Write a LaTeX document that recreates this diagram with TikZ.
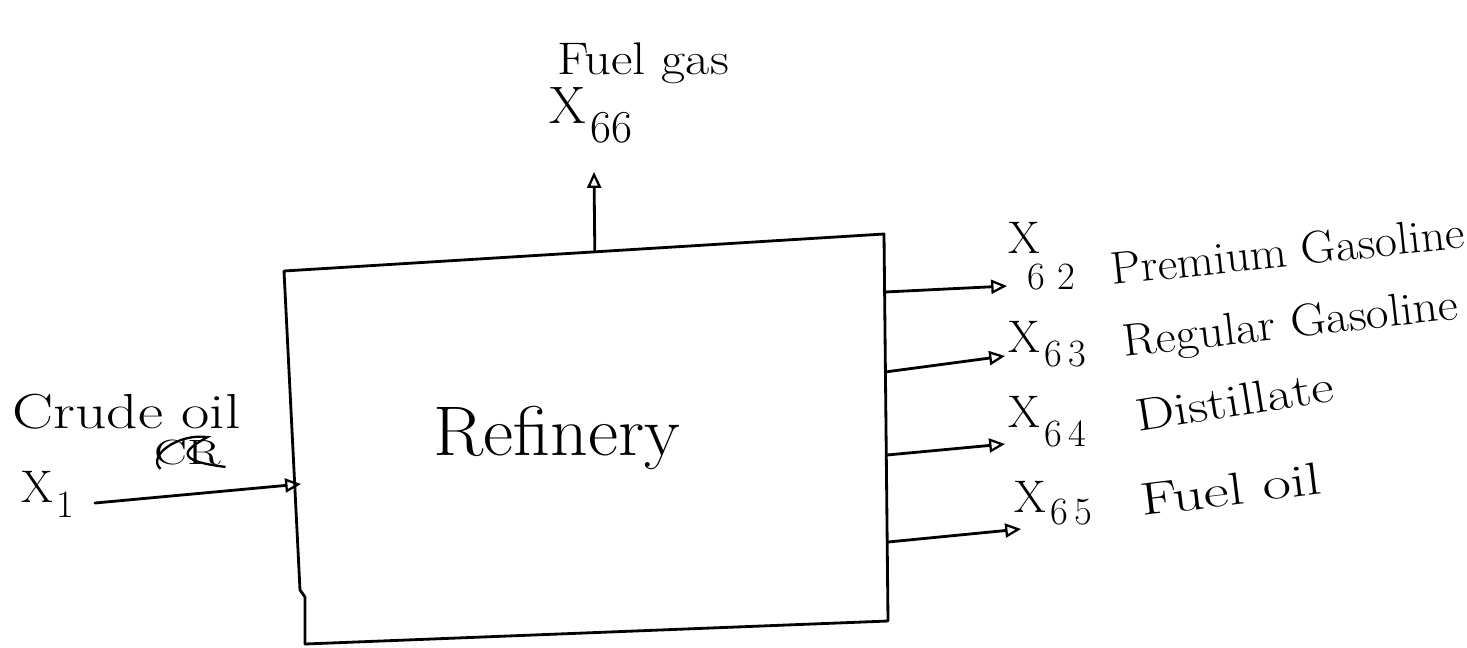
\documentclass[tikz,border=0pt]{standalone}
\usetikzlibrary{arrows.meta,calc}
\begin{document}
\begin{tikzpicture}[x=0.02cm,y=-0.02cm,
  pen/.style={line width=1.6pt,line cap=round,line join=round},
  flow/.style={pen,-{Triangle[open,length=9pt,width=8pt,line width=1.3pt]}},
  txt/.style={inner sep=0pt,font=\fontsize{26}{30}\selectfont},
  bigx/.style={inner sep=0pt,font=\fontsize{26}{26}\selectfont},
  idx/.style={inner sep=0pt,font=\fontsize{22}{22}\selectfont},
]
\useasboundingbox (0,0) rectangle (1467,647);
% refinery box (hand drawn, slightly skewed)
\coordinate (tl) at (284,271);
\coordinate (tr) at (884,234);
\coordinate (br) at (888,621);
\coordinate (bl) at (305,644);
\draw[pen] (tl) -- (300,590) -- (305,597) -- (bl) -- (br) -- (tr) -- cycle;
\node[inner sep=0pt,font=\fontsize{40}{42}\selectfont] (ref) at (557,438) {\scalebox{1.05}[1]{Refinery}};

% crude oil input
\node[inner sep=0pt,font=\fontsize{28}{30}\selectfont,anchor=base west] (crude) at (12,428) {\scalebox{1.25}[1]{Crude oil}};
\node[inner sep=0pt,font=\fontsize{20}{20}\selectfont] (cr) at (188,452) {\scalebox{1.4}[1]{CR}};
\draw[line width=1.3pt] ($(cr.south west)+(6,4)$) .. controls ($(cr.west)+(-8,4)$) and ($(cr.north)+(-10,-6)$) .. ($(cr.north east)+(-14,-2)$)
  .. controls ($(cr.center)+(0,-4)$) and ($(cr.center)+(-20,8)$) .. ($(cr.south east)+(4,2)$);
\node[bigx,anchor=base west] (x1) at (21,502) {X};
\node[idx,anchor=base west] (x1i) at (56,517) {1};
\coordinate (inA) at (95,503);
\coordinate (inB) at (301,484);
\draw[flow] (inA) -- (inB);

% fuel gas output
\node[txt,anchor=base] (fg) at (643,74) {\scalebox{1.15}[1]{Fuel gas}};
\node[inner sep=0pt,font=\fontsize{30}{30}\selectfont,anchor=base west] (x66) at (549,123) {X};
\node[txt,anchor=base west] (x66i) at (590,142) {66};
\coordinate (gasA) at ($(tl)!0.518!(tr)$);
\coordinate (gasB) at (594,172);
\draw[flow] (gasA) -- (gasB);

% product outputs
\coordinate (o2) at (885,292);  \coordinate (t2) at (1007,286);
\coordinate (o3) at (885,372);  \coordinate (t3) at (1005,356);
\coordinate (o4) at (887,455);  \coordinate (t4) at (1005,444);
\coordinate (o5) at (888,542);  \coordinate (t5) at (1021,529);
\draw[flow] (o2) -- (t2);
\draw[flow] (o3) -- (t3);
\draw[flow] (o4) -- (t4);
\draw[flow] (o5) -- (t5);

\node[bigx,anchor=base west] (x62) at (1008,253) {X};
\node[idx,anchor=base west] (x62i) at (1027,289) {6\,\,2};
\node[txt,anchor=base west,rotate=6] (n62) at (1112,285) {\scalebox{1.05}[1]{Premium Gasoline}};

\node[bigx,anchor=base west] (x63) at (1008,352) {X};
\node[idx,anchor=base west] (x63i) at (1044,366) {6\,3};
\node[txt,anchor=base west,rotate=6.5] (n63) at (1124,357) {\scalebox{1.08}[1]{Regular Gasoline}};

\node[bigx,anchor=base west] (x64) at (1008,427) {X};
\node[idx,anchor=base west] (x64i) at (1044,446) {6\,4};
\node[txt,anchor=base west,rotate=9] (n64) at (1138,432) {\scalebox{1.2}[1]{Distillate}};

\node[bigx,anchor=base west] (x65) at (1014,512) {X};
\node[idx,anchor=base west] (x65i) at (1050,524) {6\,5};
\node[txt,anchor=base west,rotate=7] (n65) at (1142,516) {\scalebox{1.35}[1]{Fuel oil}};
\end{tikzpicture}
\end{document}
